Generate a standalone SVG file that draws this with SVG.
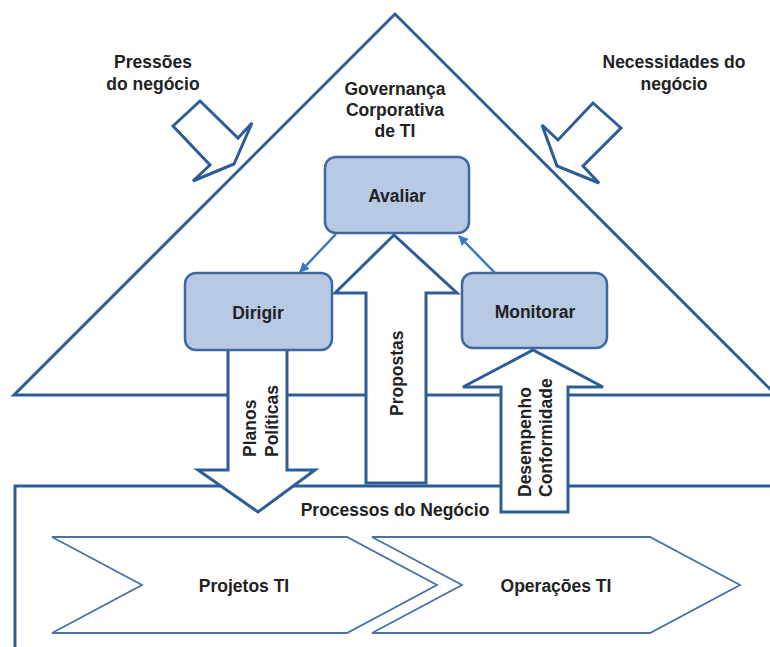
<svg xmlns="http://www.w3.org/2000/svg" width="770" height="647" viewBox="0 0 770 647">
<style>
.ln{fill:none;stroke:#2e5c97;stroke-width:3;stroke-linejoin:miter}
.blk{fill:#ffffff;stroke:#2e5c97;stroke-width:3;stroke-linejoin:miter}
.box{fill:#b8cae3;stroke:#3d68a3;stroke-width:2.5}
.chev{fill:#ffffff;stroke:#4a72a8;stroke-width:1.8}
.con{fill:none;stroke:#3a78c4;stroke-width:2.5}
text{font-family:"Liberation Sans",Arial,sans-serif;font-weight:bold;font-size:17.5px;fill:#222222}
.c{text-anchor:middle}
</style>
<defs>
<marker id="ah" markerUnits="userSpaceOnUse" markerWidth="12" markerHeight="12" refX="9" refY="5" orient="auto">
<path d="M0,0 L10,5 L0,10 Z" fill="#3a78c4"/>
</marker>
</defs>
<rect width="770" height="647" fill="#ffffff"/>
<g id="triangle">
<polygon class="ln" points="395,14 14,395 776,395"/>
<text class="c" x="395" y="95">Governança</text>
<text class="c" x="395" y="116">Corporativa</text>
<text class="c" x="395" y="137">de TI</text>
</g>
<g id="processos">
<rect class="ln" x="15" y="486" width="770" height="180"/>
<text class="c" x="395" y="516">Processos do Negócio</text>
</g>
<g id="pressoes">
<text class="c" x="153" y="68">Pressões</text>
<text class="c" x="153" y="90">do negócio</text>
<polygon class="blk" points="173,126 200,101 238,138 252,123 234,164 193,181 210,165"/>
</g>
<g id="necessidades">
<text class="c" x="674" y="68">Necessidades do</text>
<text class="c" x="674" y="90">negócio</text>
<polygon class="blk" points="593,103 621,128 583,166 599,183 557,166 542,125 558,140"/>
</g>
<g id="projetos">
<polygon class="chev" points="52,537 347,537 437,585 347,633 52,633 142,585"/>
<text class="c" x="244" y="592">Projetos TI</text>
</g>
<g id="operacoes">
<polygon class="chev" points="372,537 650,537 740,585 650,633 372,633 462,585"/>
<text class="c" x="556" y="592">Operações TI</text>
</g>
<g id="planos">
<polygon class="blk" points="228,345 287,345 287,470 315,470 258,512 198,470 228,470"/>
<text transform="translate(256,457) rotate(-90)">Planos</text>
<text transform="translate(278,457) rotate(-90)">Políticas</text>
</g>
<g id="propostas">
<polygon class="blk" points="366,483 426,483 426,293 457,293 394,235 335,293 366,293"/>
<text transform="translate(403,416) rotate(-90)">Propostas</text>
</g>
<g id="desempenho">
<polygon class="blk" points="501,512 568,512 568,387 603,387 533,350 463,387 501,387"/>
<text transform="translate(531,497) rotate(-90)">Desempenho</text>
<text transform="translate(552,497) rotate(-90)">Conformidade</text>
</g>
<g id="avaliar">
<rect class="box" x="325" y="157" width="144" height="76" rx="11"/>
<text class="c" x="397" y="202">Avaliar</text>
</g>
<g id="dirigir">
<rect class="box" x="185" y="273" width="147" height="77" rx="11"/>
<text class="c" x="258" y="319">Dirigir</text>
</g>
<g id="monitorar">
<rect class="box" x="462" y="273" width="145" height="75" rx="11"/>
<text class="c" x="535" y="318">Monitorar</text>
</g>
<g id="connectors">
<line class="con" x1="336" y1="234" x2="300" y2="272" marker-end="url(#ah)"/>
<line class="con" x1="495" y1="273" x2="459" y2="236" marker-end="url(#ah)"/>
</g>
</svg>
